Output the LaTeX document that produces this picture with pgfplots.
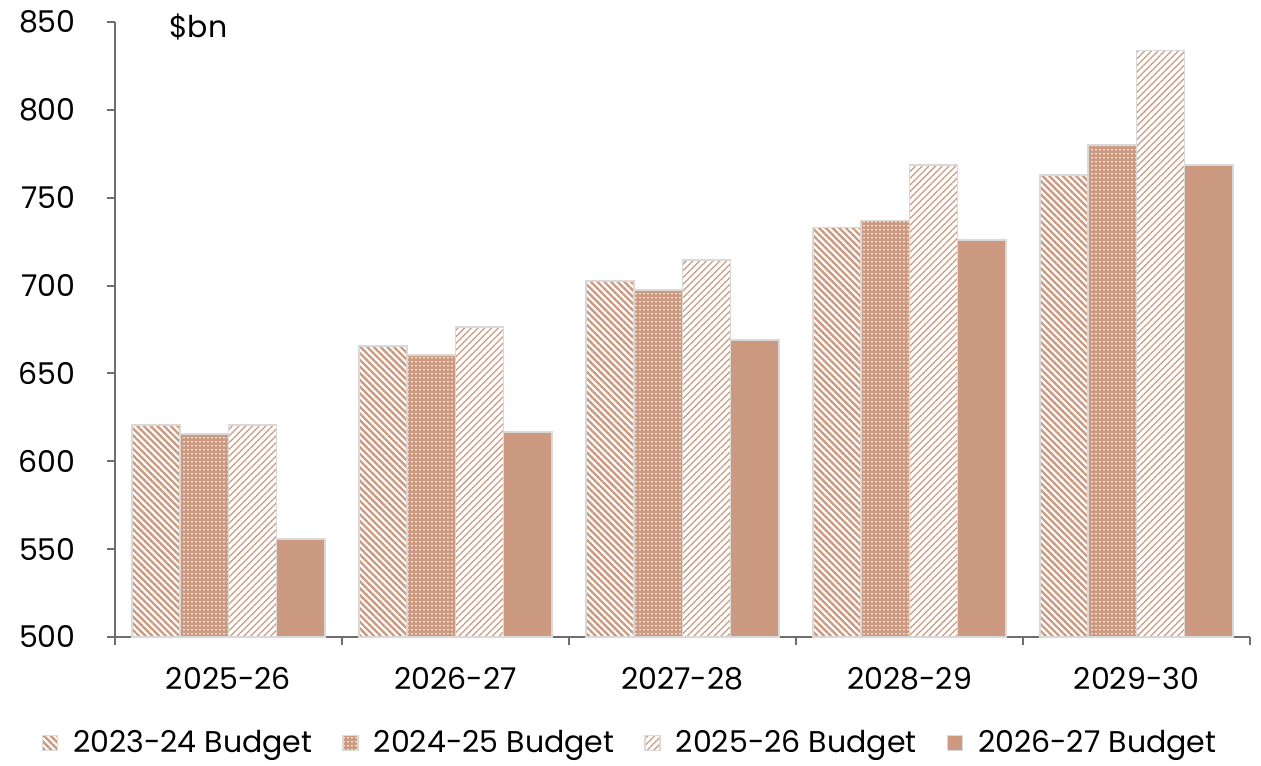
\documentclass[border=0pt]{standalone}
\usepackage{pgfplots}
\pgfplotsset{compat=1.18}
\usetikzlibrary{patterns.meta}
\usepackage{fontspec}
\setmainfont{Poppins}
\definecolor{tan}{HTML}{CC9A80}
\definecolor{edge}{HTML}{D9D9D9}
\definecolor{axisgray}{HTML}{6E6E6E}
\begin{document}
\begin{tikzpicture}
\begin{axis}[name=ax, scale only axis, width=454pt, height=246pt,
  xmin=-0.5, xmax=4.5, ymin=500, ymax=850,
  axis x line*=bottom, axis y line*=left,
  axis line style={axisgray, line width=0.8pt},
  ybar=0pt, bar width=19.3pt,
  xtick={-0.5,0.5,1.5,2.5,3.5,4.5}, xticklabels={},
  extra x ticks={0,1,2,3,4},
  extra x tick labels={2025-26,2026-27,2027-28,2028-29,2029-30},
  extra x tick style={major tick length=0pt, tick label style={yshift=-8.5pt}},
  ytick={500,550,...,850},
  tick align=outside, major tick length=3.2pt,
  tick style={axisgray, line width=0.8pt},
  tick label style={font=\fontsize{12}{14}\selectfont},
  /pgf/number format/assume math mode=true,
  /pgf/number format/fixed, /pgf/number format/1000 sep={},
  yticklabel style={xshift=-9pt},
  legend style={at={(0.455,-0.172)}, anchor=center, draw=none, fill=none,
    legend columns=4, font=\fontsize{12}{14}\selectfont,
    /tikz/every odd column/.append style={column sep=4pt},
    /tikz/every even column/.append style={column sep=10pt}},
  legend image code/.code={\draw[#1] (0pt,-3pt) rectangle (6pt,3pt);},
  clip=false,
]
\addplot[draw=edge, line width=0.6pt, pattern={Lines[angle=-45,distance=1.9pt,line width=0.95pt]}, pattern color=tan]
  coordinates {(0,620.7) (1,665.6) (2,702.6) (3,733) (4,763)};
\addlegendentry{2023-24 Budget}
\addplot[draw=edge, line width=0.6pt, fill=tan, postaction={pattern={Dots[distance=1.6pt,radius=0.35pt]}, pattern color=white}]
  coordinates {(0,615.5) (1,660.5) (2,697.5) (3,737) (4,780)};
\addlegendentry{2024-25 Budget}
\addplot[draw=edge, line width=0.6pt, pattern={Lines[angle=45,distance=1.9pt,line width=0.5pt]}, pattern color=tan]
  coordinates {(0,620.7) (1,676.4) (2,714.6) (3,768.6) (4,833.7)};
\addlegendentry{2025-26 Budget}
\addplot[draw=edge, line width=0.6pt, fill=tan]
  coordinates {(0,555.8) (1,616.7) (2,669) (3,726) (4,768.6)};
\addlegendentry{2026-27 Budget}
\node[anchor=west, font=\fontsize{12}{14}\selectfont] at (axis cs:-0.3,847) {\$bn};
\end{axis}
\path (ax.south west) ++(-46pt,-50pt) rectangle ++(504.4pt,304.8pt);
\end{tikzpicture}
\end{document}
